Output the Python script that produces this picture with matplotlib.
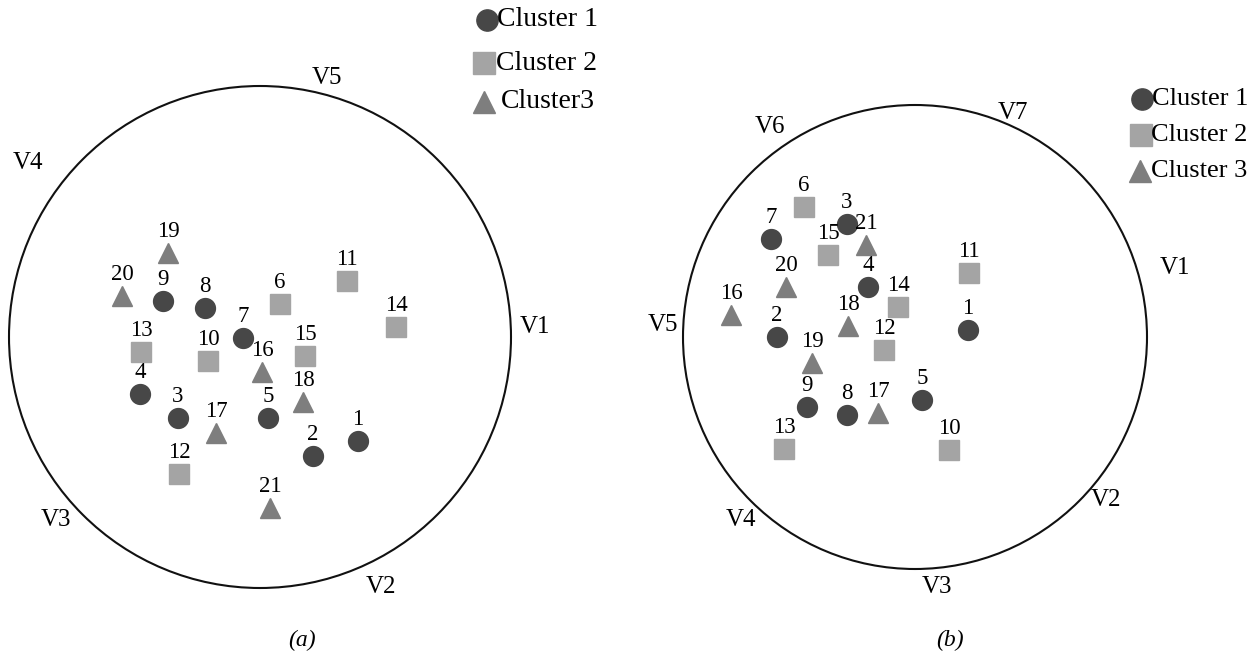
import matplotlib.pyplot as plt
from matplotlib.patches import Circle

plt.rcParams['font.family'] = ['Liberation Serif', 'DejaVu Serif']

# point positions on the page (x right, y down), per panel and cluster
a_c1_id = [1, 2, 3, 4, 5, 7, 8, 9]
a_c1_x = [358, 313, 178, 140, 268, 243, 205, 163]
a_c1_y = [441, 456, 418, 394, 418, 338, 308, 301]
a_c2_id = [6, 10, 11, 12, 13, 14, 15]
a_c2_x = [280, 208, 347, 179, 141, 396, 305]
a_c2_y = [304, 361, 281, 474, 352, 327, 356]
a_c3_id = [16, 17, 18, 19, 20, 21]
a_c3_x = [262, 216, 303, 168, 122, 270]
a_c3_y = [372, 433, 402, 253, 296, 508]

b_c1_id = [1, 2, 3, 4, 5, 7, 8, 9]
b_c1_x = [968, 777, 847, 868, 922, 771, 847, 807]
b_c1_y = [330, 337, 224, 287, 400, 239, 415, 407]
b_c2_id = [6, 10, 11, 12, 13, 14, 15]
b_c2_x = [804, 949, 969, 884, 784, 898, 828]
b_c2_y = [207, 450, 273, 350, 449, 307, 255]
b_c3_id = [16, 17, 18, 19, 20, 21]
b_c3_x = [731, 878, 848, 812, 786, 866]
b_c3_y = [315, 413, 326, 363, 287, 245]

a_vlabels = ['V1', 'V2', 'V3', 'V4', 'V5']
a_vx = [535, 381, 56, 28, 327]
a_vy = [327, 587, 520, 163, 78]
b_vlabels = ['V1', 'V2', 'V3', 'V4', 'V5', 'V6', 'V7']
b_vx = [1175, 1106, 937, 741, 663, 770, 1013]
b_vy = [268, 500, 587, 520, 325, 127, 113]

col1, col2, col3 = '#474747', '#a4a4a4', '#7e7e7e'
ms = 14.3

fig = plt.figure(figsize=(12.59, 6.62), dpi=100)
ax = fig.add_axes([0, 0, 1, 1])
ax.set_xlim(0, 1259)
ax.set_ylim(662, 0)
ax.axis('off')

ax.add_patch(Circle((260, 337), 251, fill=False, lw=1.5, color='#111111'))
ax.add_patch(Circle((915, 337), 232, fill=False, lw=1.5, color='#111111'))


def cluster(ids, xs, ys, marker, color):
    ax.plot(xs, ys, ls='none', marker=marker, ms=ms, color=color, mec=color)
    for i, x, y in zip(ids, xs, ys):
        ax.text(x, y - 11, str(i), ha='center', va='bottom', fontsize=16.5)


cluster(a_c1_id, a_c1_x, a_c1_y, 'o', col1)
cluster(a_c2_id, a_c2_x, a_c2_y, 's', col2)
cluster(a_c3_id, a_c3_x, a_c3_y, '^', col3)
cluster(b_c1_id, b_c1_x, b_c1_y, 'o', col1)
cluster(b_c2_id, b_c2_x, b_c2_y, 's', col2)
cluster(b_c3_id, b_c3_x, b_c3_y, '^', col3)

for t, x, y in zip(a_vlabels, a_vx, a_vy):
    ax.text(x, y, t, ha='center', va='center', fontsize=18)
for t, x, y in zip(b_vlabels, b_vx, b_vy):
    ax.text(x, y, t, ha='center', va='center', fontsize=18)

# legends drawn by hand: marker, colour, text, x, y, text offset
leg_a = [('o', col1, 'Cluster 1', 487, 20, 10), ('s', col2, 'Cluster 2', 484, 63, 12),
         ('^', col3, 'Cluster3', 484, 102, 17)]
for m, c, t, x, y, dx in leg_a:
    ax.plot([x], [y], marker=m, ms=ms + 1, color=c, ls='none')
    ax.text(x + dx, y, t, ha='left', va='center', fontsize=20)

leg_b = [('o', col1, 'Cluster 1', 1142, 99, 10), ('s', col2, 'Cluster 2', 1141, 135, 10),
         ('^', col3, 'Cluster 3', 1140, 171, 11)]
for m, c, t, x, y, dx in leg_b:
    ax.plot([x], [y], marker=m, ms=ms + 1, color=c, ls='none')
    ax.text(x + dx, y, t, ha='left', va='center', fontsize=19)

ax.text(302, 640, '(a)', ha='center', va='center', fontsize=17, style='italic')
ax.text(950, 640, '(b)', ha='center', va='center', fontsize=17, style='italic')

fig.savefig('out.png', dpi=100)
